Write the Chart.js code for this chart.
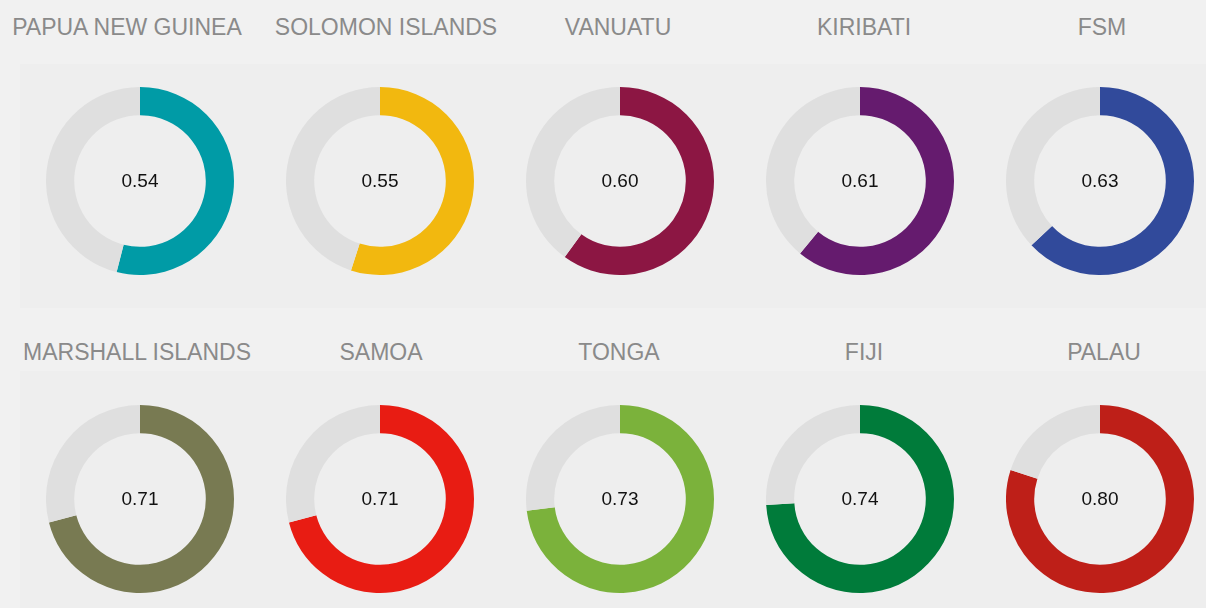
<!DOCTYPE html>
<html>
<head>
<meta charset="utf-8">
<script src="https://cdn.jsdelivr.net/npm/chart.js@4/dist/chart.umd.min.js"></script>
<style>
  html, body { margin: 0; padding: 0; width: 1206px; height: 608px; overflow: hidden; background: #f1f1f1; }
  #wrap { position: relative; width: 1206px; height: 608px; }
  .panel { position: absolute; left: 20px; width: 1186px; background: #eeeeee; }
  .title { position: absolute; transform: translateX(-50%); white-space: nowrap;
           font-family: "Liberation Sans", Arial, sans-serif; font-size: 23px; color: #8a8a8a; line-height: 1; }
  canvas.d { position: absolute; }
</style>
</head>
<body>
<div id="wrap">
  <div class="panel" style="top:64px;height:244px"></div>
  <div class="panel" style="top:371px;height:237px"></div>
</div>
<script>
// ---- data ----
const countries = ["PAPUA NEW GUINEA", "SOLOMON ISLANDS", "VANUATU", "KIRIBATI", "FSM",
                   "MARSHALL ISLANDS", "SAMOA", "TONGA", "FIJI", "PALAU"];
const values = [0.54, 0.55, 0.60, 0.61, 0.63, 0.71, 0.71, 0.73, 0.74, 0.80];
const colors = ["#009ba6", "#f2b80f", "#8c1643", "#651b6e", "#314a9b",
                "#787a52", "#e81c13", "#7bb23b", "#007b3a", "#be1f18"];
const restColor = "#dfdfdf";

// ---- layout ----
const colX = [140, 380, 620, 860, 1100];
const titleX = [127, 386, 618, 864, 1102, 137, 381, 619, 864, 1104];
const rowY = [181, 499];
const titleTop = [16, 341];
const R = 94;

const centerText = {
  id: 'centerText',
  afterDraw(chart) {
    const { ctx, chartArea } = chart;
    const v = chart.data.datasets[0].data[0];
    ctx.save();
    ctx.font = '19px "Liberation Sans", Arial, sans-serif';
    ctx.fillStyle = '#111';
    ctx.textAlign = 'center';
    ctx.textBaseline = 'middle';
    ctx.fillText(v.toFixed(2), (chartArea.left + chartArea.right) / 2, (chartArea.top + chartArea.bottom) / 2 + 1);
    ctx.restore();
  }
};

const wrap = document.getElementById('wrap');
countries.forEach((name, i) => {
  const row = Math.floor(i / 5), col = i % 5;
  const t = document.createElement('div');
  t.className = 'title';
  t.textContent = name;
  t.style.left = titleX[i] + 'px';
  t.style.top = titleTop[row] + 'px';
  wrap.appendChild(t);

  const c = document.createElement('canvas');
  c.className = 'd';
  c.width = 2 * R; c.height = 2 * R;
  c.style.width = 2 * R + 'px'; c.style.height = 2 * R + 'px';
  c.style.left = (colX[col] - R) + 'px';
  c.style.top = (rowY[row] - R) + 'px';
  wrap.appendChild(c);

  new Chart(c, {
    type: 'doughnut',
    data: {
      labels: [name, ''],
      datasets: [{
        data: [values[i], +(1 - values[i]).toFixed(2)],
        backgroundColor: [colors[i], restColor],
        borderWidth: 0,
        hoverOffset: 0
      }]
    },
    options: {
      responsive: false,
      animation: false,
      cutout: '70%',
      layout: { padding: 0 },
      plugins: { legend: { display: false }, tooltip: { enabled: false } }
    },
    plugins: [centerText]
  });
});
</script>
</body>
</html>
